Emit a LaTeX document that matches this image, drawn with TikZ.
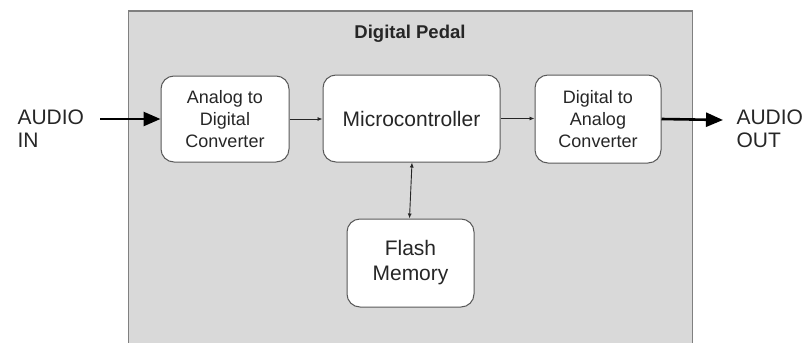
\documentclass[tikz,border=0pt]{standalone}
\usepackage{fontspec}
\setmainfont{Liberation Sans}
\usetikzlibrary{arrows.meta}
\definecolor{panel}{HTML}{D9D9D9}
\definecolor{paneledge}{HTML}{808080}
\definecolor{boxedge}{HTML}{595959}
\definecolor{ink}{HTML}{262626}
\begin{document}
\begin{tikzpicture}[x=1pt,y=-1pt,
  block/.style={draw=boxedge, line width=1pt, fill=white, rounded corners=13pt,
    align=center, text=ink, inner sep=0pt},
  small/.style={font=\fontsize{18}{22}\selectfont},
  large/.style={font=\fontsize{21}{25}\selectfont},
  thin link/.style={draw=black!85, line width=0.8pt, -{Latex[length=5pt,width=4pt]}},
  thick link/.style={draw=black, line width=2.6pt, -{Triangle[length=17pt,width=14pt]}},
  label/.style={align=left, anchor=west, text=ink, font=\fontsize{21}{23}\selectfont}]
  \useasboundingbox (0,0) rectangle (804,343);
  % enclosing panel
  \fill[panel] (128.5,11) rectangle (692.5,345);
  \draw[paneledge, line width=1.6pt] (128.5,345) -- (128.5,11) -- (692.5,11) -- (692.5,345);
  \node[text=ink, font=\fontsize{18.5}{22}\selectfont\bfseries] (title) at (410,34) {Digital Pedal};
  % blocks
  \node[block, small, minimum width=128pt, minimum height=86pt] (adc) at (225,119)
    {Analog to\\Digital\\Converter};
  \node[block, large, minimum width=177pt, minimum height=87pt] (mcu) at (411.5,118.5)
    {Microcontroller};
  \node[block, small, minimum width=126pt, minimum height=88pt] (dac) at (598,119)
    {Digital to\\Analog\\Converter};
  \node[block, large, minimum width=127pt, minimum height=88pt] (flash) at (410.5,263)
    {Flash\\Memory};
  % external labels
  \node[label] (ain) at (14,129) {AUDIO\\IN};
  \node[label] (aout) at (733,129) {AUDIO\\OUT};
  \coordinate (inStart) at (100,119);
  \coordinate (outEnd) at (723,120);
  % signal path
  \draw[thick link] (inStart) -- (adc.west);
  \draw[thin link] (adc.east) -- (mcu.west |- adc.east);
  \draw[thin link] (mcu.east) -- (dac.west |- mcu.east);
  \draw[thick link] (dac.east) -- (outEnd);
  \draw[draw=black!85, line width=0.9pt, {Latex[length=5pt,width=4pt]}-{Latex[length=5pt,width=4pt]}]
    ([xshift=0.5pt]mcu.south) -- ([xshift=-1pt]flash.north);
\end{tikzpicture}
\end{document}
